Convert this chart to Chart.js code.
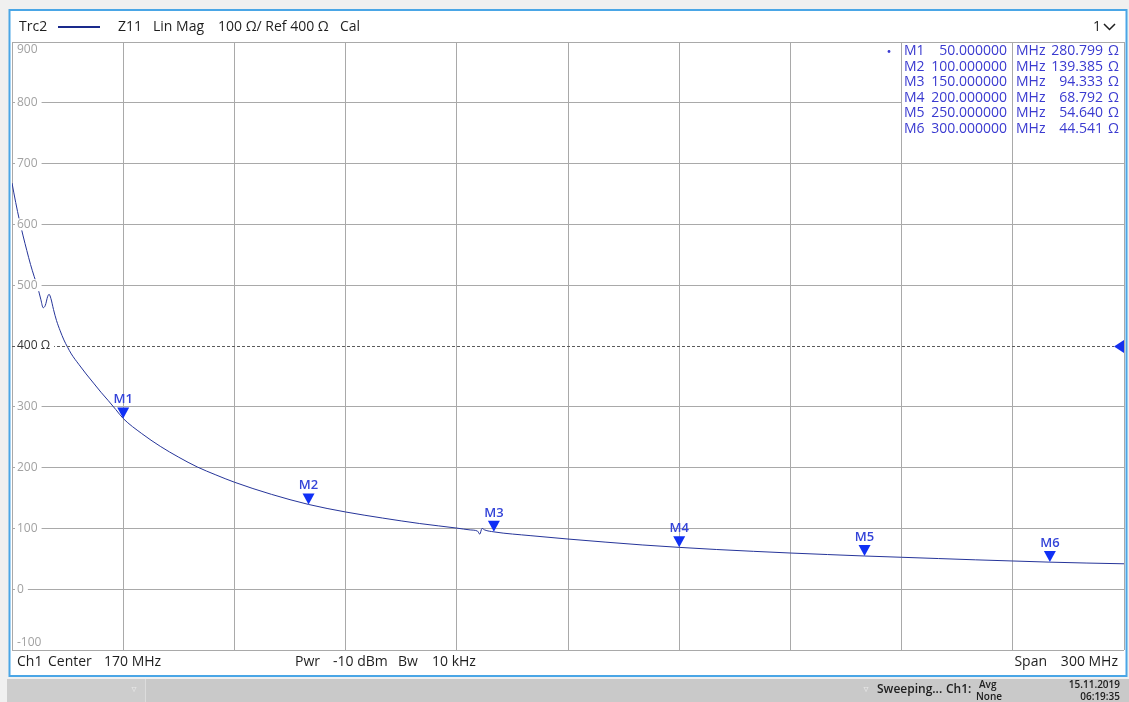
<!DOCTYPE html>
<html>
<head>
<meta charset="utf-8">
<script src="https://cdn.jsdelivr.net/npm/chart.js@4.4.1/dist/chart.umd.min.js"></script>
<style>
  html, body { margin: 0; padding: 0; background: #f0f0f0; overflow: hidden; }
  canvas { display: block; }
</style>
</head>
<body>
<canvas id="vna" width="1129" height="702"></canvas>
<script>
// Z11 magnitude sweep, 20 MHz .. 320 MHz (Center 170 MHz, Span 300 MHz)
const freqMHz = [
  20, 21, 22, 23, 24, 25, 26, 27, 27.8, 28.4, 29.0, 29.6, 30.0, 30.5, 31.2, 32, 33, 34, 35,
  36, 38, 40, 42, 44, 46, 48, 50, 55, 60, 65, 70, 75, 80, 90, 100, 110, 120, 130, 140,
  143.6, 145.6, 146.2, 146.8, 147.5, 150, 160, 170, 180, 190, 200, 210, 220, 230, 240,
  250, 260, 270, 280, 290, 300, 310, 320
];
const z11Ohm = [
  668, 636, 607, 581, 557, 534, 514, 495, 476, 463, 467, 481, 485, 478, 460, 442, 425, 410, 398,
  387, 370, 354, 339, 324, 310, 295.5, 280.8, 256, 235, 217, 201, 188, 176, 156, 139.4, 127, 117, 108, 100.5,
  97.5, 95.5, 90.5, 100, 97.5, 94.3, 88, 82.5, 77.5, 72.8, 68.8, 65.3, 62.3, 59.5, 57,
  54.6, 52.5, 50.4, 48.3, 46.4, 44.5, 43, 41.8
];

// Markers
const markerNames = ['M1', 'M2', 'M3', 'M4', 'M5', 'M6'];
const markerFreqMHz = [50, 100, 150, 200, 250, 300];
const markerOhm = [280.799, 139.385, 94.333, 68.792, 54.640, 44.541];
const markerFreqText = ['50.000000', '100.000000', '150.000000', '200.000000', '250.000000', '300.000000'];
const markerValueText = ['280.799', '139.385', '94.333', '68.792', '54.640', '44.541'];

// Axis scaling: 100 Ω/div, reference 400 Ω
const yTickValues = [900, 800, 700, 600, 500, 400, 300, 200, 100, 0, -100];
const yTickLabels = ['900', '800', '700', '600', '500', '400 Ω', '300', '200', '100', '0', '-100'];
const refLevelOhm = 400;
const startMHz = 20, stopMHz = 320;

const UI_FONT = '"Open Sans", "Noto Sans", "DejaVu Sans", sans-serif';
const GRID_COLOR = '#a9a9a9';

function font(size, weight) { return (weight || 'normal') + ' ' + size + 'px ' + UI_FONT; }
function align(px) { return Math.round(px - 0.5) + 0.5; }

const analyzerScreen = {
  id: 'analyzerScreen',
  beforeDraw(chart) {
    const ctx = chart.ctx;
    ctx.save();
    ctx.fillStyle = '#f0f0f0';
    ctx.fillRect(0, 0, chart.width, chart.height);
    // diagram window
    ctx.fillStyle = '#ffffff';
    ctx.fillRect(9, 9, 1118, 668);
    // status bar
    ctx.fillStyle = '#c9c9c9';
    ctx.fillRect(7, 679, 1122, 23);
    ctx.fillStyle = '#cdcdcd';
    ctx.fillRect(7, 679, 138, 23);
    ctx.fillStyle = '#dcdcdc';
    ctx.fillRect(145, 679, 1, 23);
    ctx.restore();
  },
  afterDatasetsDraw(chart) {
    const ctx = chart.ctx;
    const xs = chart.scales.x, ys = chart.scales.y;
    const area = chart.chartArea;
    ctx.save();

    // marker info table: white panel over the grid, with its two column rules
    const tTop = align(area.top) + 0.5, tBot = 154;
    const c1 = align(xs.getPixelForValue(260)), c2 = align(xs.getPixelForValue(290));
    const cr = align(area.right);
    ctx.fillStyle = '#ffffff';
    ctx.fillRect(c1 + 0.5, tTop, cr - c1 - 1, tBot - tTop);
    ctx.strokeStyle = GRID_COLOR;
    ctx.lineWidth = 1;
    ctx.beginPath();
    ctx.moveTo(c1, tTop); ctx.lineTo(c1, tBot);
    ctx.moveTo(c2, tTop); ctx.lineTo(c2, tBot);
    ctx.stroke();

    ctx.textBaseline = 'middle';
    ctx.font = font(14);
    ctx.fillStyle = '#3a3ad0';
    for (let i = 0; i < markerNames.length; i++) {
      const ty = 51.5 + i * 15.5;
      ctx.textAlign = 'left';
      ctx.fillText(markerNames[i], 904, ty);
      ctx.textAlign = 'right';
      ctx.fillText(markerFreqText[i], 1007, ty);
      ctx.textAlign = 'left';
      ctx.fillText('MHz', 1016, ty);
      ctx.textAlign = 'right';
      ctx.fillText(markerValueText[i], 1103, ty);
      ctx.textAlign = 'left';
      ctx.fillText('Ω', 1108, ty);
    }
    ctx.beginPath();
    ctx.arc(889, 51.5, 1.4, 0, Math.PI * 2);
    ctx.fill();

    // reference level line
    const yRef = align(ys.getPixelForValue(refLevelOhm));
    ctx.strokeStyle = '#5a5a5a';
    ctx.lineWidth = 1;
    ctx.setLineDash([3, 2]);
    ctx.beginPath();
    ctx.moveTo(area.left, yRef);
    ctx.lineTo(area.right - 10, yRef);
    ctx.stroke();
    ctx.setLineDash([]);

    // reference arrow at right edge
    ctx.fillStyle = '#1530ee';
    ctx.beginPath();
    ctx.moveTo(area.right - 10, yRef);
    ctx.lineTo(area.right, yRef - 6.5);
    ctx.lineTo(area.right, yRef + 6.5);
    ctx.closePath();
    ctx.fill();

    // y division labels
    ctx.font = font(12);
    ctx.textAlign = 'left';
    for (let i = 0; i < yTickValues.length; i++) {
      const v = yTickValues[i];
      let ty = ys.getPixelForValue(v);
      if (v === 900) ty += 8;
      if (v === -100) ty -= 7;
      const txt = yTickLabels[i];
      const w = ctx.measureText(txt).width;
      if (v !== 900 && v !== -100) {
        ctx.fillStyle = '#ffffff';
        ctx.fillRect(area.left + 3, ty - 6, w + 6, 12);
      }
      ctx.fillStyle = v === refLevelOhm ? '#333333' : '#a2a2a2';
      ctx.fillText(txt, area.left + 5, ty);
    }

    // markers: downward triangle with its tip on the trace, name above
    for (let i = 0; i < markerNames.length; i++) {
      const px = xs.getPixelForValue(markerFreqMHz[i]);
      const py = ys.getPixelForValue(markerOhm[i]);
      ctx.fillStyle = '#1030f5';
      ctx.beginPath();
      ctx.moveTo(px - 6, py - 11);
      ctx.lineTo(px + 6, py - 11);
      ctx.lineTo(px, py);
      ctx.closePath();
      ctx.fill();
      ctx.fillStyle = '#3444d8';
      ctx.font = font(13, '600');
      ctx.textAlign = 'center';
      ctx.fillText(markerNames[i], px, py - 19);
    }

    // header line
    ctx.fillStyle = '#1e1e1e';
    ctx.font = font(14);
    ctx.textAlign = 'left';
    ctx.fillText('Trc2', 19, 27);
    ctx.fillText('Z11', 118, 27);
    ctx.fillText('Lin Mag', 153, 27);
    ctx.fillText('100 Ω/ Ref 400 Ω', 218, 27);
    ctx.fillText('Cal', 340, 27);
    ctx.strokeStyle = '#1a2a8c';
    ctx.lineWidth = 2;
    ctx.beginPath();
    ctx.moveTo(58, 27);
    ctx.lineTo(100, 27);
    ctx.stroke();
    ctx.fillText('1', 1093, 27);
    ctx.strokeStyle = '#1e1e1e';
    ctx.lineWidth = 1.5;
    ctx.beginPath();
    ctx.moveTo(1104, 24);
    ctx.lineTo(1109.5, 29.5);
    ctx.lineTo(1115, 24);
    ctx.stroke();

    // channel info line
    ctx.fillText('Ch1', 17, 662);
    ctx.fillText('Center', 48, 662);
    ctx.fillText('170 MHz', 104, 662);
    ctx.fillText('Pwr', 295, 662);
    ctx.fillText('-10 dBm', 333, 662);
    ctx.fillText('Bw', 398, 662);
    ctx.fillText('10 kHz', 432, 662);
    ctx.textAlign = 'right';
    ctx.fillText('300 MHz', 1118, 662);
    ctx.fillText('Span', 1047, 662);

    // window border
    ctx.strokeStyle = '#4aa6e6';
    ctx.lineWidth = 2;
    ctx.strokeRect(9.5, 10, 1117, 666);

    // status bar text
    ctx.fillStyle = '#202020';
    ctx.font = font(12, '600');
    ctx.textAlign = 'left';
    ctx.fillText('Sweeping...', 877, 690);
    ctx.fillText('Ch1:', 946, 690);
    ctx.font = font(10, '600');
    ctx.fillText('Avg', 979, 685);
    ctx.fillText('None', 976, 697);
    ctx.textAlign = 'right';
    ctx.fillText('15.11.2019', 1120, 685);
    ctx.fillText('06:19:35', 1120, 697);
    ctx.fillStyle = '#e8e8e8';
    ctx.font = font(10);
    ctx.textAlign = 'center';
    ctx.fillText('▿', 866, 689);
    ctx.fillText('▿', 134, 689);

    ctx.restore();
  }
};

const traceData = freqMHz.map((f, i) => ({ x: f, y: z11Ohm[i] }));

new Chart(document.getElementById('vna'), {
  type: 'line',
  data: {
    datasets: [{
      label: 'Trc2 Z11',
      data: traceData,
      borderColor: '#26359a',
      borderWidth: 1,
      pointRadius: 0,
      tension: 0.4,
      cubicInterpolationMode: 'monotone',
      fill: false
    }]
  },
  options: {
    responsive: false,
    animation: false,
    devicePixelRatio: 1,
    layout: { padding: { left: 12, top: 42, right: 5, bottom: 52 } },
    plugins: { legend: { display: false }, tooltip: { enabled: false } },
    scales: {
      x: {
        type: 'linear',
        min: startMHz,
        max: stopMHz,
        ticks: { display: false, stepSize: 30 },
        grid: { color: GRID_COLOR, lineWidth: 1, drawTicks: false },
        border: { display: false }
      },
      y: {
        type: 'linear',
        min: -100,
        max: 900,
        ticks: { display: false, stepSize: 100 },
        grid: {
          color: (c) => (c.tick && c.tick.value === refLevelOhm) ? 'rgba(0,0,0,0)' : GRID_COLOR,
          lineWidth: 1,
          drawTicks: false
        },
        border: { display: false }
      }
    }
  },
  plugins: [analyzerScreen]
});
</script>
</body>
</html>
